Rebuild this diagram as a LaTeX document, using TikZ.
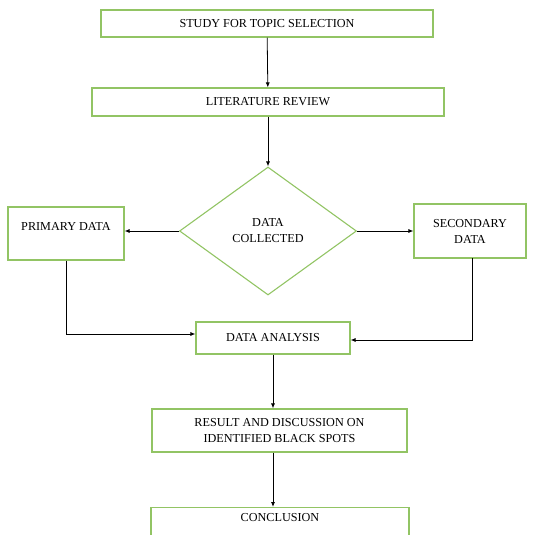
\documentclass[tikz,border=0pt]{standalone}
\usepackage{fontspec}
\setmainfont{Liberation Serif}
\usetikzlibrary{shapes.geometric,arrows.meta}
\definecolor{boxgreen}{RGB}{146,196,100}

\begin{document}
\begin{tikzpicture}[x=1pt, y=-1pt,
  stepbox/.style={draw=boxgreen, line width=1.1pt, fill=white, align=center, font=\fontsize{12.2}{16}\selectfont, inner sep=2pt},
  decision/.style={draw=boxgreen, line width=1.1pt, diamond, inner sep=0pt, align=center, font=\fontsize{12.2}{16}\selectfont},
  flow/.style={-{Latex[length=5pt,width=4pt]}, line width=0.8pt}]
\useasboundingbox (0,0) rectangle (535,535);
\clip (0,0) rectangle (535,535);

\node[stepbox, minimum width=332pt, minimum height=27pt] (study) at (267, 23.5) {STUDY FOR TOPIC SELECTION};
\node[stepbox, minimum width=352pt, minimum height=28pt] (lit) at (268, 102) {LITERATURE REVIEW};
\node[decision, minimum width=177pt, minimum height=128pt] (coll) at (268, 231) {DATA\\COLLECTED};
\node[stepbox, minimum width=116pt, minimum height=53pt, text depth=14pt] (prim) at (66, 233.5) {PRIMARY DATA};
\node[stepbox, minimum width=112pt, minimum height=54pt] (sec) at (470, 231) {SECONDARY\\DATA};
\node[stepbox, minimum width=154pt, minimum height=32pt] (ana) at (273, 338) {DATA ANALYSIS};
\node[stepbox, minimum width=255pt, minimum height=43pt] (res) at (279.5, 430.5) {RESULT AND DISCUSSION ON\\IDENTIFIED BLACK SPOTS};
\node[stepbox, minimum width=258pt, anchor=north, inner ysep=6pt, text depth=22pt] (conc) at (280, 507) {CONCLUSION};

\draw[flow] (study) -- (lit);
\draw[flow] (lit) -- (coll);
\draw[flow] (coll.west) -- (prim.east |- coll.west);
\draw[flow] (coll.east) -- (sec.west |- coll.east);
\draw[flow] (prim.south) -- (66, 334) -- (ana.west |- 0,334);
\draw[flow] (472, 258) -- (472, 340) -- (ana.east |- 0,340);
\draw[flow] (ana) -- (ana.south |- res.north);
\draw[flow] (ana.south |- res.south) -- (ana.south |- conc.north);
\end{tikzpicture}
\end{document}
